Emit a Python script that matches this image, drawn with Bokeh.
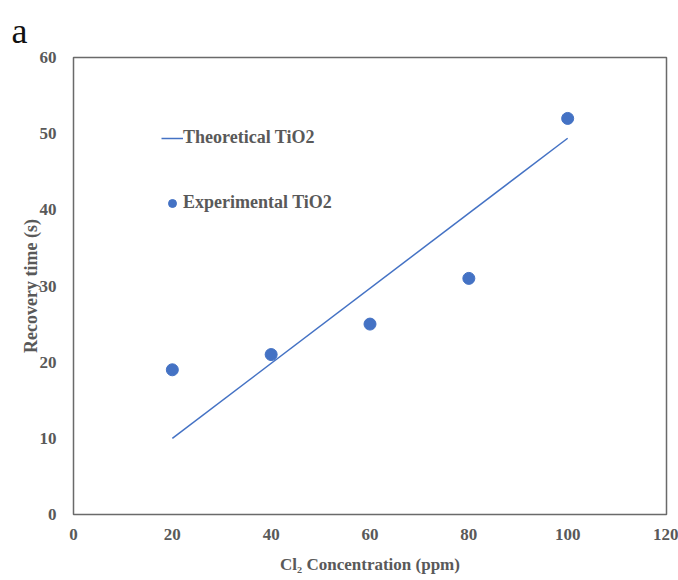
from bokeh.plotting import figure
from bokeh.models import Range1d, Legend, LegendItem, FixedTicker
from bokeh.embed import file_html
from bokeh.resources import INLINE

# data
exp_x = [20, 40, 60, 80, 100]
exp_y = [19, 21, 25, 31, 52]
theo_x = [20, 100]
theo_y = [10, 49.4]
x_ticks = [0, 20, 40, 60, 80, 100, 120]
y_ticks = [0, 10, 20, 30, 40, 50, 60]

FONT = "Liberation Serif"
GRAY = "#595959"
BLUE = "#4472C4"

p = figure(width=678, height=580, output_backend="svg", toolbar_location=None,
           x_range=Range1d(0, 120), y_range=Range1d(0, 60),
           min_border_left=73, min_border_right=12, min_border_top=57, min_border_bottom=66,
           title="a")
p.title.align = "left"
p.title.offset = -62
p.title.text_font = FONT
p.title.text_font_style = "normal"
p.title.text_font_size = "36px"
p.title.text_color = "#111111"
p.title.standoff = 14

p.grid.visible = False
p.outline_line_color = "#6a6a6a"
p.outline_line_width = 1.5
p.background_fill_color = "white"
p.border_fill_color = "white"

for ax in (p.xaxis[0], p.yaxis[0]):
    ax.axis_line_color = None
    ax.major_tick_line_color = None
    ax.minor_tick_line_color = None
    ax.major_label_text_font = FONT
    ax.major_label_text_font_style = "bold"
    ax.major_label_text_font_size = "17px"
    ax.major_label_text_color = GRAY
    ax.axis_label_text_font = FONT
    ax.axis_label_text_font_style = "bold"
    ax.axis_label_text_font_size = "17px"
    ax.axis_label_text_color = GRAY

p.xaxis.ticker = FixedTicker(ticks=x_ticks)
p.yaxis.ticker = FixedTicker(ticks=y_ticks)
p.xaxis.axis_label = "Cl\u2082 Concentration (ppm)"
p.yaxis.axis_label = "Recovery time (s)"
p.xaxis.major_label_standoff = 8
p.yaxis.major_label_standoff = 11
p.xaxis.axis_label_standoff = 12
p.yaxis.axis_label_standoff = -4
p.yaxis.axis_label_text_font_size = "18px"

r_line = p.line(theo_x, theo_y, line_color=BLUE, line_width=1.5)
r_pts = p.scatter(exp_x, exp_y, size=12, fill_color=BLUE, line_color=BLUE)

legend = Legend(items=[LegendItem(label="Theoretical TiO2", renderers=[r_line]),
                       LegendItem(label="Experimental TiO2", renderers=[r_pts])],
                location=(88, 301), border_line_color=None, background_fill_alpha=0,
                label_text_font=FONT, label_text_font_style="bold",
                label_text_font_size="18px", label_text_color=GRAY,
                glyph_width=22, spacing=44, label_standoff=0)
p.add_layout(legend, "center")

open("out.html", "w").write(file_html(p, INLINE))
